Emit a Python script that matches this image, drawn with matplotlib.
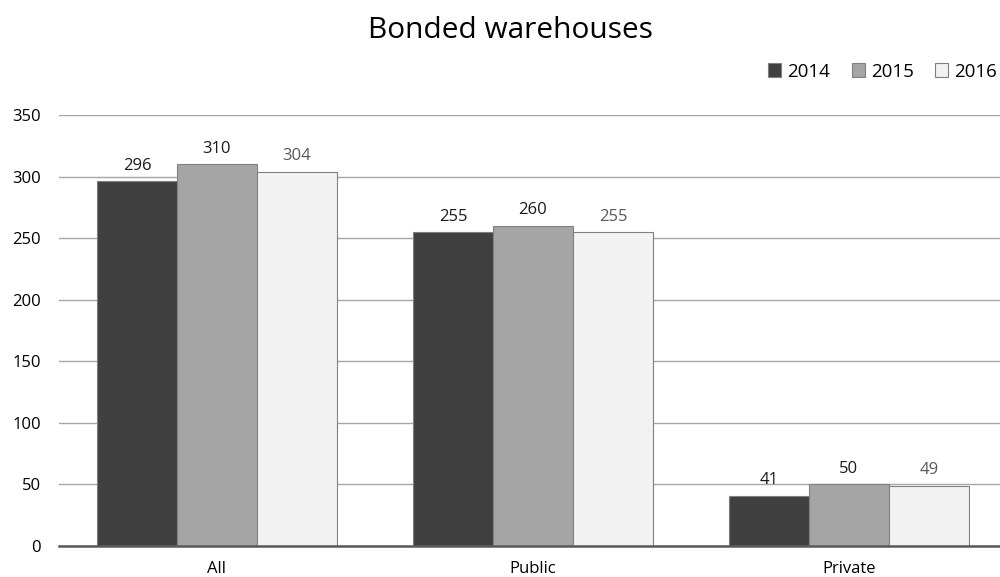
import matplotlib.pyplot as plt
import numpy as np
from matplotlib.patches import Patch

categories = ["All", "Public", "Private"]
years = ["2014", "2015", "2016"]
values_2014 = [296, 255, 41]
values_2015 = [310, 260, 50]
values_2016 = [304, 255, 49]

plt.rcParams['font.family'] = ['Open Sans', 'DejaVu Sans']

fig = plt.figure(figsize=(10, 5.77), dpi=100)
ax = fig.add_axes([0.059, 0.0537, 0.948, 0.747])

colors = ["#404040", "#a5a5a5", "#f2f2f2"]
label_colors = ["#1a1a1a", "#1a1a1a", "#595959"]
series = [values_2014, values_2015, values_2016]
x = np.arange(len(categories))
w = 0.253

for i, vals in enumerate(series):
    pos = x + (i - 1) * w
    ax.bar(pos, vals, width=w, color=colors[i], edgecolor="#808080", linewidth=0.8, zorder=3, label=years[i])
    for p, v in zip(pos, vals):
        ax.text(p, v + 6, str(v), ha="center", va="bottom", fontsize=12, color=label_colors[i], zorder=4)

ax.set_xlim(-0.5, 2.5)
ax.set_ylim(0, 350)
ax.set_yticks(range(0, 351, 50))
ax.yaxis.grid(True, color="#a6a6a6", linewidth=1, zorder=0)
ax.set_axisbelow(True)
for s in ["top", "right", "left"]:
    ax.spines[s].set_visible(False)
ax.spines["bottom"].set_color("#595959")
ax.spines["bottom"].set_linewidth(1.8)
ax.spines["bottom"].set_zorder(5)
ax.tick_params(axis="both", length=0, labelsize=12, colors="#000000")
ax.tick_params(axis="y", pad=13)
ax.tick_params(axis="x", pad=10.5)
ax.set_xticks(x)
ax.set_xticklabels(categories)

fig.text(0.511, 0.934, "Bonded warehouses", ha="center", va="baseline", fontsize=21.5)

handles = [Patch(facecolor=colors[i], edgecolor="#808080", linewidth=0.8, label=years[i]) for i in range(3)]
fig.legend(handles=handles, loc="center right", bbox_to_anchor=(0.997, 0.876), ncol=3, frameon=False,
           fontsize=13.5, handlelength=0.7, handleheight=0.7, handletextpad=0.32, columnspacing=1.15,
           borderpad=0, borderaxespad=0)

fig.savefig("out.png", dpi=100)
